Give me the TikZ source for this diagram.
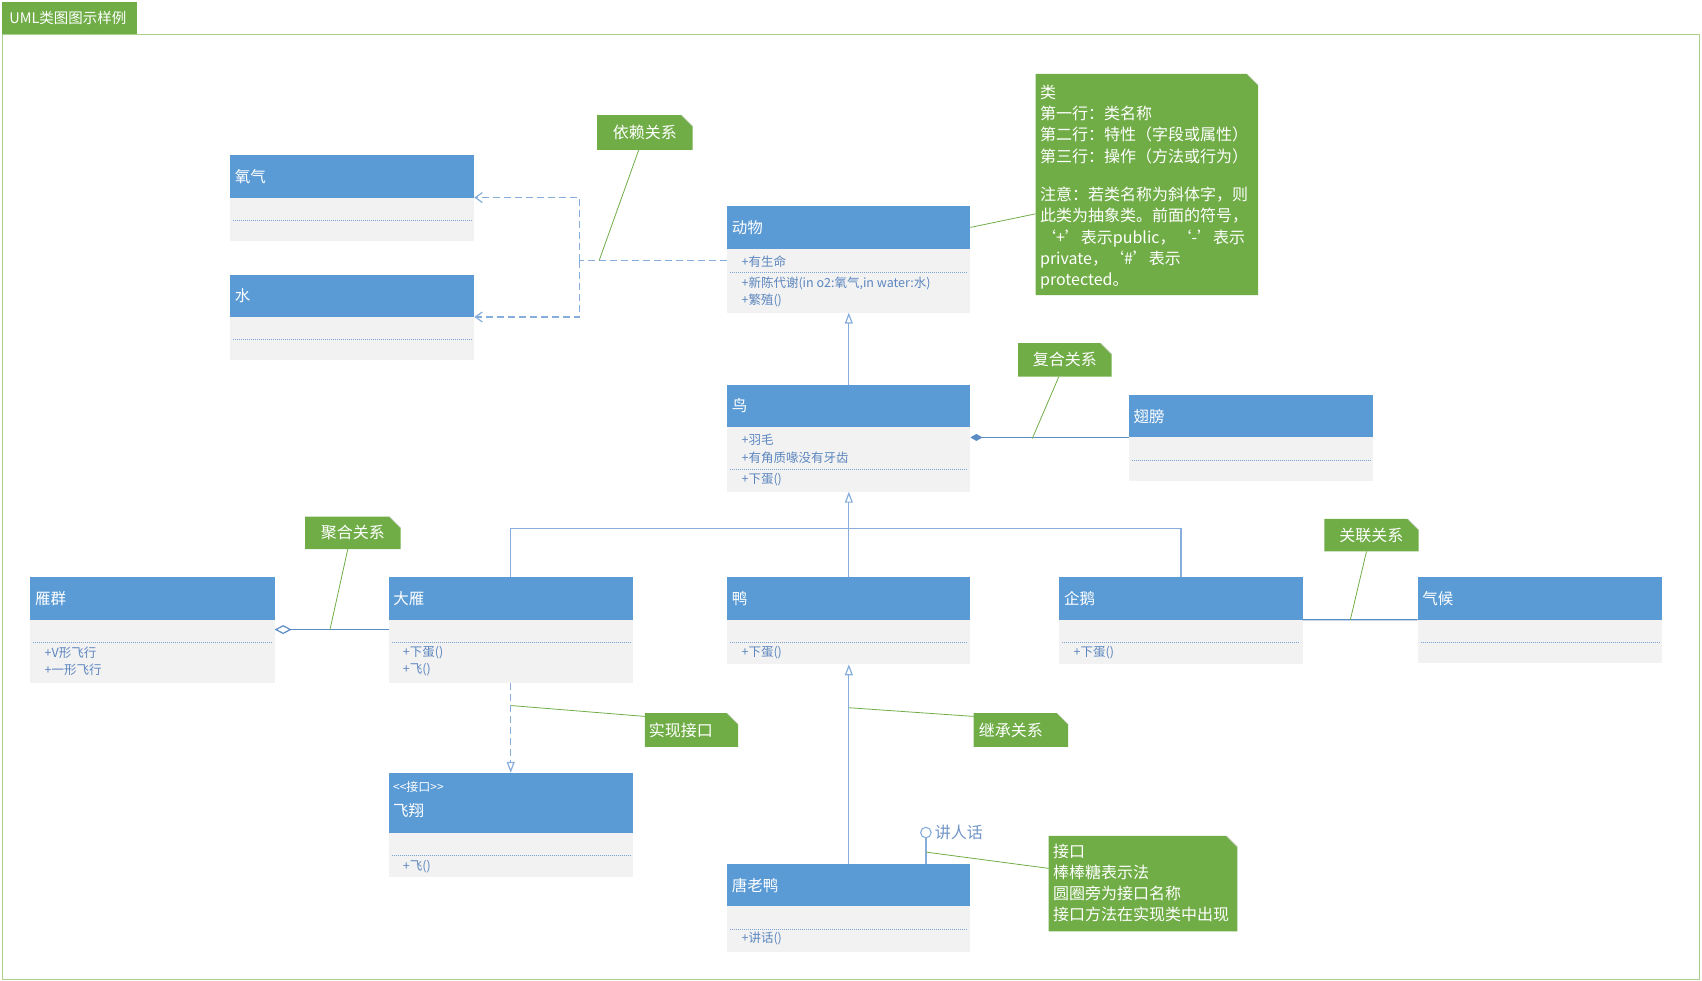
\documentclass[tikz,border=0pt]{standalone}
\usepackage{fontspec}
\setmainfont{Noto Sans CJK SC}
\usetikzlibrary{arrows.meta,fit,calc}
\definecolor{hdrblue}{HTML}{5B9BD5}
\definecolor{bodygray}{HTML}{F2F2F2}
\definecolor{notegreen}{HTML}{70AD47}
\definecolor{framegreen}{HTML}{A9D18E}
\definecolor{linkblue}{HTML}{86ADDB}
\definecolor{darkblue}{HTML}{5B8CC4}
\definecolor{memblue}{HTML}{5C86BF}
\definecolor{sepblue}{HTML}{7AA3D4}
\definecolor{foldgray}{HTML}{D9D9D9}
\definecolor{lolliblue}{HTML}{6F95C6}

\newcommand\umlcls[7]{%
  \node[hdr, fit={(#2,#3) (#4,#5)}] (#1) {};
  \node[bdy, fit={(#2,#5) (#4,#6)}] (#1-b) {};
  \node[cname, anchor=west] (#1-t) at ([xshift=4.5pt]#1.west) {#7};
}
\newcommand\umlsep[2]{%
  \draw[sepline] (#1-b.west |- 0,#2) -- (#1-b.east |- 0,#2);
}
\newcommand\umlnote[5]{%
  \node[fit={(#2,#3) (#4,#5)}, inner sep=0pt, outer sep=0pt] (#1) {};
  \fill[notegreen] (#1.north west) -- ([xshift=-11pt]#1.north east) -- ([yshift=-11pt]#1.north east) -- (#1.south east) -- (#1.south west) -- cycle;
  \draw[foldgray, line width=0.6pt] ([xshift=-11pt]#1.north east) -- ([yshift=-11pt]#1.north east);
}

\begin{document}
\begin{tikzpicture}[x=1.0855pt, y=-1.0855pt,
  hdr/.style={fill=hdrblue, inner sep=0pt, outer sep=0pt},
  bdy/.style={fill=bodygray, inner sep=0pt, outer sep=0pt},
  cname/.style={text=white, font=\fontsize{15.5}{18}\selectfont, inner sep=0pt},
  mem/.style={text=memblue, font=\fontsize{12.5}{14}\selectfont, inner sep=0pt, anchor=west},
  sepline/.style={draw=sepblue, line width=0.8pt, dash pattern=on 1pt off 1pt, shorten <=3pt, shorten >=3pt},
  notetext/.style={text=white, font=\fontsize{16}{21.3}\selectfont, inner sep=0pt},
  link/.style={draw=linkblue, line width=1.2pt},
  inh/.style={link, -{Triangle[open, length=11pt, width=8pt]}},
  dep/.style={link, dash pattern=on 7pt off 4pt},
  deparrow/.style={dep, -{Straight Barb[length=7pt, width=10pt]}},
  real/.style={dep, -{Triangle[open, length=11pt, width=8pt]}},
  comp/.style={draw=darkblue, line width=1.2pt, -{Diamond[length=12pt, width=7pt]}},
  agg/.style={draw=darkblue, line width=1.2pt, -{Diamond[open, length=17pt, width=9pt]}},
  assoc/.style={draw=darkblue, line width=1.2pt},
  noteline/.style={draw=notegreen, line width=0.8pt}
]
\useasboundingbox (0,0) rectangle (1568,903);

% frame and title tab
\node[draw=framegreen, line width=1pt, fit={(2,32) (1566,902)}, inner sep=0pt, outer sep=0pt] (frame) {};
\node[fill=notegreen, fit={(2,2) (126,31)}, inner sep=0pt, outer sep=0pt] (tab) {};
\node[text=white, font=\fontsize{14.5}{17}\selectfont, inner sep=0pt, anchor=west] (tab-t) at ([xshift=7pt]tab.west) {UML类图图示样例};

% classes
\umlcls{yq}{212}{143}{437}{182}{222}{氧气}
\umlsep{yq}{203}
\umlcls{sh}{212}{253}{437}{292}{332}{水}
\umlsep{sh}{313}

\umlcls{dw}{670}{190}{894}{229}{288}{动物}
\node[mem] (dw-m1) at (683,241) {+有生命};
\umlsep{dw}{251}
\node[mem] (dw-m2) at (683,261) {+新陈代谢(in o2:氧气,in water:水)};
\node[mem] (dw-m3) at (683,277) {+繁殖()};

\umlcls{niao}{670}{355}{894}{393}{453}{鸟}
\node[mem] (niao-m1) at (683,405) {+羽毛};
\node[mem] (niao-m2) at (683,422) {+有角质喙没有牙齿};
\umlsep{niao}{432}
\node[mem] (niao-m3) at (683,442) {+下蛋()};

\umlcls{chi}{1040}{364}{1265}{403}{443}{翅膀}
\umlsep{chi}{424}

\umlcls{yqun}{28}{532}{253}{571}{629}{雁群}
\umlsep{yqun}{592}
\node[mem] (yqun-m1) at (41,601) {+V形飞行};
\node[mem] (yqun-m2) at (41,617) {+一形飞行};

\umlcls{dy}{358}{532}{583}{571}{629}{大雁}
\umlsep{dy}{592}
\node[mem] (dy-m1) at (371,601) {+下蛋()};
\node[mem] (dy-m2) at (371,617) {+飞()};

\umlcls{ya}{670}{532}{894}{571}{612}{鸭}
\umlsep{ya}{592}
\node[mem] (ya-m1) at (683,601) {+下蛋()};

\umlcls{qe}{976}{532}{1200}{571}{612}{企鹅}
\umlsep{qe}{592}
\node[mem] (qe-m1) at (989,601) {+下蛋()};

\umlcls{qh}{1306}{532}{1531}{571}{611}{气候}
\umlsep{qh}{592}

% interface class
\node[hdr, fit={(358,712) (583,767)}] (fx) {};
\node[bdy, fit={(358,767) (583,808)}] (fx-b) {};
\node[text=white, font=\fontsize{12}{14}\selectfont, inner sep=0pt, anchor=west] (fx-s) at (362,725) {<{}<接口>{}>};
\node[cname, anchor=west] (fx-t) at (362,747) {飞翔};
\umlsep{fx}{788}
\node[mem] (fx-m1) at (371,798) {+飞()};

\umlcls{tly}{670}{796}{894}{835}{877}{唐老鸭}
\umlsep{tly}{856}
\node[mem] (tly-m1) at (683,865) {+讲话()};

% dependency
\coordinate (dj) at (534,240);
\draw[dep] (dw-b.west |- dj) -- (dj);
\draw[deparrow] (dj) |- (yq-b.north east);
\draw[deparrow] (dj) |- (sh-b.north east);

% generalization
\draw[inh] (niao.north) -- (dw-b.south);
\coordinate (tj) at (782,487);
\draw[inh] (ya.north) -- (niao-b.south);
\draw[link] (dy.north) |- (tj) -| (qe.north);
\draw[inh] (tly.north) -- (ya-b.south);

% composition
\draw[comp] (chi-b.north west) -- (niao-b.east |- chi-b.north west);
% aggregation
\draw[agg] (dy-b.west |- 0,580) -- (yqun-b.east |- 0,580);
% association
\draw[assoc] (qe-b.north east) -- (qh-b.north west);
% realization
\draw[real] (dy-b.south) -- (fx.north);

% lollipop
\node[draw=linkblue, circle, line width=1.1pt, minimum size=10.5pt, inner sep=0pt] (lp) at (853,767) {};
\draw[link] (lp.south |- tly.north) -- (lp.south);
\node[text=lolliblue, font=\fontsize{16}{18}\selectfont, inner sep=0pt, anchor=west] (lp-t) at (861,767) {讲人话};

% notes
\umlnote{yl}{550}{106}{638}{138}
\node[notetext] (yl-t) at (yl.center) {依赖关系};
\coordinate (yl-p) at (552,240);
\draw[noteline] ([xshift=-6pt]yl.south) -- (yl-p);

\umlnote{cn}{954}{68}{1159}{272}
\node[notetext, anchor=north west, align=left] (cn-t) at (958,78) {类\\第一行：类名称\\第二行：特性（字段或属性）\\第三行：操作（方法或行为）\\[17pt]注意：若类名称为斜体字，则\\此类为抽象类。前面的符号，\\‘+’表示public，‘-’表示\\private，‘\#’表示\\protected。};
\draw[noteline] (dw.east) -- (cn.west |- 0,197);

\umlnote{fh}{938}{316}{1024}{347}
\node[notetext] (fh-t) at (fh.center) {复合关系};
\coordinate (fh-p) at (951,404);
\draw[noteline] ([xshift=-6pt]fh.south) -- (fh-p);

\umlnote{jh}{281}{476}{369}{506}
\node[notetext] (jh-t) at (jh.center) {聚合关系};
\coordinate (jh-p) at (304,580);
\draw[noteline] ([xshift=-5pt]jh.south) -- (jh-p);

\umlnote{gl}{1220}{478}{1307}{508}
\node[notetext] (gl-t) at (gl.center) {关联关系};
\coordinate (gl-p) at (1244,571);
\draw[noteline] ([xshift=-5pt]gl.south) -- (gl-p);

\umlnote{sx}{594}{657}{680}{688}
\node[notetext, anchor=west] (sx-t) at ([xshift=4pt]sx.west) {实现接口};
\coordinate (sx-p) at (471,650);
\draw[noteline] (sx-p) -- (sx.west |- 0,660);

\umlnote{jc}{897}{657}{984}{688}
\node[notetext, anchor=west] (jc-t) at ([xshift=5pt]jc.west) {继承关系};
\coordinate (jc-p) at (782,652);
\draw[noteline] (jc-p) -- (jc.west |- 0,660);

\umlnote{jk}{966}{770}{1140}{858}
\node[notetext, anchor=north west, align=left] (jk-t) at (970,777) {接口\\棒棒糖表示法\\圆圈旁为接口名称\\接口方法在实现类中出现};
\coordinate (jk-p) at (853,785);
\draw[noteline] (jk-p) -- (jk.west |- 0,800);

\end{tikzpicture}
\end{document}
